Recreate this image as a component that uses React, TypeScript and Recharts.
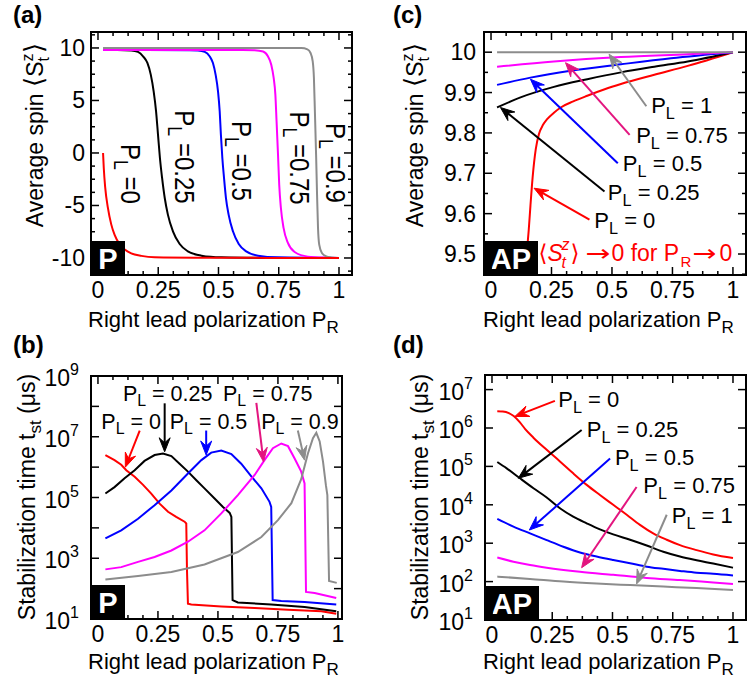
import React from 'react';
import { LineChart, Line, XAxis, YAxis, ReferenceLine, ReferenceDot, ReferenceArea } from 'recharts';

const FONT = "'Liberation Sans', Arial, Helvetica, 'DejaVu Sans', sans-serif";
const RED = '#ff0000';
const BLACK = '#000000';
const BLUE = '#0000ff';
const MAGENTA = '#ff00ff';
const GRAY = '#8c8c8c';
const PINK = '#e3157f';

type Pair = [number, number];
const pts = (rows: Pair[]) => rows.map(([x, y]) => ({ x, y }));

// ---- axis ticks ----
const PR_TICKS = [0, 0.25, 0.5, 0.75, 1];
const PR_LABELS = ['0', '0.25', '0.5', '0.75', '1'];
const PR_MINOR = [0.0625, 0.125, 0.1875, 0.3125, 0.375, 0.4375, 0.5625, 0.625, 0.6875, 0.8125, 0.875, 0.9375];

const SPIN_P_TICKS = [-10, -5, 0, 5, 10];
const SPIN_P_LABELS = ['-10', '-5', '0', '5', '10'];
const SPIN_P_MINOR = [-11.25, -8.75, -7.5, -6.25, -3.75, -2.5, -1.25, 1.25, 2.5, 3.75, 6.25, 7.5, 8.75, 11.25];

const SPIN_AP_TICKS = [9.5, 9.6, 9.7, 9.8, 9.9, 10];
const SPIN_AP_LABELS = ['9.5', '9.6', '9.7', '9.8', '9.9', '10'];
const SPIN_AP_MINOR = [9.45, 9.55, 9.65, 9.75, 9.85, 9.95];

const TIME_P_TICKS = [1e1, 1e2, 1e3, 1e4, 1e5, 1e6, 1e7, 1e8, 1e9];
const TIME_P_LABELED = [1e1, 1e3, 1e5, 1e7, 1e9];
const TIME_AP_TICKS = [1e1, 1e2, 1e3, 1e4, 1e5, 1e6, 1e7];

// ---- (a) average spin, parallel leads ----
const spinP_PL0: Pair[] = [
  [0.021, 0], [0.024, -1.43], [0.03, -3.3], [0.041, -5.2], [0.055, -6.8], [0.069, -7.8], [0.09, -8.7],
  [0.111, -9.2], [0.138, -9.56], [0.18, -9.8], [0.235, -9.94], [0.4, -9.98], [0.7, -9.99], [1.0, -10],
];
const spinP_PL025: Pair[] = [
  [0.021, 9.8], [0.08, 9.8], [0.138, 9.76], [0.166, 9.62], [0.187, 9.21], [0.205, 8.57], [0.219, 7.46],
  [0.231, 5.87], [0.241, 3.97], [0.249, 1.75], [0.257, -0.48], [0.266, -2.38], [0.277, -4.29], [0.29, -5.87],
  [0.311, -7.46], [0.339, -8.67], [0.373, -9.37], [0.429, -9.78], [0.512, -9.94], [0.7, -9.99], [1.0, -10],
];
const spinP_PL05: Pair[] = [
  [0.021, 9.8], [0.2, 9.8], [0.38, 9.79], [0.415, 9.76], [0.443, 9.62], [0.463, 9.21], [0.477, 8.57],
  [0.488, 7.46], [0.498, 5.87], [0.505, 3.97], [0.51, 1.75], [0.516, -0.48], [0.523, -2.38], [0.531, -4.29],
  [0.542, -5.87], [0.56, -7.46], [0.584, -8.67], [0.615, -9.37], [0.664, -9.78], [0.747, -9.94], [1.0, -10],
];
const spinP_PL075: Pair[] = [
  [0.021, 9.8], [0.3, 9.8], [0.6, 9.8], [0.65, 9.78], [0.685, 9.66], [0.705, 9.21], [0.719, 8.41],
  [0.729, 7.14], [0.736, 5.56], [0.741, 3.02], [0.747, -0.16], [0.752, -3.02], [0.759, -5.24], [0.77, -7.14],
  [0.788, -8.57], [0.816, -9.43], [0.871, -9.87], [0.954, -9.97], [1.0, -10],
];
const spinP_PL09: Pair[] = [
  [0.021, 10], [0.4, 10], [0.8, 10], [0.844, 9.99], [0.869, 9.87], [0.882, 9.52], [0.891, 8.73],
  [0.896, 7.14], [0.9, 3.97], [0.905, -0.16], [0.909, -3.97], [0.913, -7.14], [0.918, -8.73],
  [0.929, -9.52], [0.947, -9.84], [0.97, -9.95], [1.0, -10],
];

// ---- (c) average spin, antiparallel leads ----
const spinAP_PL0: Pair[] = [
  [0.14, 9.4], [0.148, 9.5], [0.156, 9.56], [0.163, 9.62], [0.172, 9.69], [0.185, 9.76], [0.198, 9.797],
  [0.215, 9.82], [0.232, 9.834], [0.26, 9.85], [0.288, 9.863], [0.34, 9.878], [0.398, 9.892], [0.47, 9.908],
  [0.537, 9.921], [0.675, 9.944], [0.813, 9.966], [1.0, 10],
];
const spinAP_PL025: Pair[] = [
  [0.025, 9.863], [0.122, 9.888], [0.26, 9.914], [0.398, 9.933], [0.537, 9.95], [0.675, 9.964], [0.813, 9.977], [1.0, 10],
];
const spinAP_PL05: Pair[] = [
  [0.025, 9.919], [0.163, 9.937], [0.329, 9.954], [0.537, 9.97], [0.744, 9.985], [1.0, 10],
];
const spinAP_PL075: Pair[] = [
  [0.025, 9.964], [0.26, 9.977], [0.537, 9.988], [0.813, 9.995], [1.0, 10],
];
const spinAP_PL1: Pair[] = [[0.025, 10], [0.5, 10], [1.0, 10]];

// ---- (b) stabilization time (µs), parallel leads ----
const timeP_PL0: Pair[] = [
  [0.031, 2.5e6], [0.069, 1.7e6], [0.097, 1.2e6], [0.118, 7.9e5], [0.153, 4.8e5], [0.188, 2.6e5],
  [0.222, 1.35e5], [0.257, 6.3e4], [0.292, 3.4e4], [0.326, 2.3e4], [0.361, 1.6e4], [0.368, 1.4e4],
  [0.371, 400], [0.375, 32], [0.389, 30], [0.514, 26], [0.653, 23], [0.792, 20], [0.931, 18], [0.993, 15],
];
const timeP_PL025: Pair[] = [
  [0.031, 1.35e5], [0.069, 2.2e5], [0.111, 4.3e5], [0.153, 7.9e5], [0.194, 1.6e6], [0.236, 2.5e6],
  [0.271, 2.8e6], [0.306, 2.3e6], [0.34, 1.3e6], [0.375, 7.1e5], [0.41, 3.7e5], [0.444, 2.0e5],
  [0.486, 9.3e4], [0.521, 4.9e4], [0.549, 3.1e4], [0.556, 2.3e4], [0.561, 42], [0.583, 35], [0.722, 30],
  [0.861, 25], [0.993, 18],
];
const timeP_PL05: Pair[] = [
  [0.031, 4.5e3], [0.097, 8.3e3], [0.167, 2.0e4], [0.236, 5.6e4], [0.306, 1.7e5], [0.375, 6.2e5],
  [0.431, 1.7e6], [0.472, 3.0e6], [0.514, 3.5e6], [0.556, 2.7e6], [0.597, 1.3e6], [0.639, 5.0e5],
  [0.681, 2.0e5], [0.715, 7.2e4], [0.722, 4.9e4], [0.728, 42], [0.764, 39], [0.861, 36], [0.993, 30],
];
const timeP_PL075: Pair[] = [
  [0.031, 430], [0.097, 510], [0.167, 760], [0.236, 1.1e3], [0.306, 1.8e3], [0.375, 3.5e3], [0.444, 8.3e3],
  [0.514, 3.0e4], [0.583, 1.2e5], [0.653, 5.5e5], [0.694, 1.7e6], [0.729, 4.2e6], [0.764, 6.0e6],
  [0.792, 4.9e6], [0.819, 1.95e6], [0.847, 7.1e5], [0.861, 2.9e5], [0.867, 78], [0.903, 72], [0.993, 49],
];
const timeP_PL09: Pair[] = [
  [0.031, 200], [0.167, 260], [0.306, 355], [0.444, 620], [0.583, 1.6e3], [0.681, 5.0e3], [0.75, 1.8e4],
  [0.806, 6.5e4], [0.847, 4.0e5], [0.875, 2.8e6], [0.896, 8.9e6], [0.91, 1.35e7], [0.924, 7.0e6],
  [0.938, 1.5e6], [0.95, 2.5e5], [0.956, 1.2e5], [0.96, 3e3], [0.963, 180], [0.995, 155],
];

// ---- (d) stabilization time (µs), antiparallel leads ----
const timeAP_PL0: Pair[] = [
  [0.022, 2.75e6], [0.045, 2.7e6], [0.07, 2.45e6], [0.09, 2.05e6], [0.116, 1.4e6], [0.137, 9.5e5],
  [0.172, 5.6e5], [0.227, 2.7e5], [0.282, 1.35e5], [0.337, 6.6e4], [0.393, 3.3e4], [0.448, 1.8e4],
  [0.503, 1.0e4], [0.559, 5.5e3], [0.614, 3.0e3], [0.669, 1.8e3], [0.725, 1.23e3], [0.78, 890],
  [0.849, 660], [0.918, 510], [1.0, 410],
];
const timeAP_PL025: Pair[] = [
  [0.022, 1.3e5], [0.061, 8.9e4], [0.116, 4.9e4], [0.172, 2.7e4], [0.227, 1.55e4], [0.282, 8.1e3],
  [0.337, 4.9e3], [0.393, 3.3e3], [0.448, 2.3e3], [0.503, 1.7e3], [0.573, 1.23e3], [0.642, 870],
  [0.711, 600], [0.78, 450], [0.849, 360], [0.918, 295], [1.0, 230],
];
const timeAP_PL05: Pair[] = [
  [0.022, 4.3e3], [0.089, 2.7e3], [0.158, 1.8e3], [0.227, 1.2e3], [0.296, 810], [0.365, 575], [0.434, 450],
  [0.503, 365], [0.573, 300], [0.642, 245], [0.711, 215], [0.78, 190], [0.849, 170], [0.918, 160], [1.0, 145],
];
const timeAP_PL075: Pair[] = [
  [0.022, 425], [0.089, 330], [0.158, 270], [0.227, 230], [0.365, 180], [0.503, 150], [0.642, 125],
  [0.78, 110], [0.918, 95], [1.0, 87],
];
const timeAP_PL1: Pair[] = [
  [0.022, 135], [0.158, 117], [0.296, 100], [0.434, 89], [0.573, 81], [0.711, 74], [0.849, 68], [1.0, 60],
];

// ---- annotations (data coordinates) ----
type Note = { x: number; y: number; text: string };
type Arrow = { from: [number, number]; to: [number, number]; color: string };

const spinP_notes: Note[] = [
  { x: 0.129, y: -1.99, text: '0' },
  { x: 0.353, y: -0.38, text: '0.25' },
  { x: 0.589, y: -0.76, text: '0.5' },
  { x: 0.83, y: -0.48, text: '0.75' },
  { x: 0.979, y: -0.95, text: '0.9' },
];
const spinAP_notes: Note[] = [
  { x: 0.662, y: 9.849, text: '1' },
  { x: 0.6, y: 9.775, text: '0.75' },
  { x: 0.545, y: 9.705, text: '0.5' },
  { x: 0.483, y: 9.634, text: '0.25' },
  { x: 0.427, y: 9.564, text: '0' },
];
const spinAP_arrows: Arrow[] = [
  { from: [0.642, 9.866], to: [0.488, 9.995], color: GRAY },
  { from: [0.573, 9.795], to: [0.308, 9.974], color: PINK },
  { from: [0.524, 9.725], to: [0.163, 9.933], color: BLUE },
  { from: [0.469, 9.655], to: [0.039, 9.863], color: BLACK },
  { from: [0.407, 9.585], to: [0.178, 9.663], color: RED },
];
const timeP_notes: Note[] = [
  { x: 0.104, y: 1.45e8, text: '0.25' },
  { x: 0.521, y: 1.45e8, text: '0.75' },
  { x: 0.014, y: 1.85e7, text: '0' },
  { x: 0.299, y: 1.85e7, text: '0.5' },
  { x: 0.68, y: 1.85e7, text: '0.9' },
];
const timeP_arrows: Arrow[] = [
  { from: [0.174, 1.6e7], to: [0.114, 1.0e6], color: RED },
  { from: [0.278, 1.26e8], to: [0.278, 3.2e6], color: BLACK },
  { from: [0.451, 1.6e7], to: [0.451, 2.5e6], color: BLUE },
  { from: [0.66, 1.3e8], to: [0.69, 1.5e6], color: PINK },
  { from: [0.833, 1.6e7], to: [0.861, 1.7e6], color: GRAY },
];
const timeAP_notes: Note[] = [
  { x: 0.275, y: 3.6e6, text: '0' },
  { x: 0.393, y: 6.0e5, text: '0.25' },
  { x: 0.51, y: 1.1e5, text: '0.5' },
  { x: 0.628, y: 2.0e4, text: '0.75' },
  { x: 0.746, y: 3.3e3, text: '1' },
];
const timeAP_arrows: Arrow[] = [
  { from: [0.261, 5.1e6], to: [0.095, 2.0e6], color: RED },
  { from: [0.372, 8.9e5], to: [0.109, 4.9e4], color: BLACK },
  { from: [0.49, 1.6e5], to: [0.155, 2.2e3], color: BLUE },
  { from: [0.6, 2.9e4], to: [0.372, 230], color: PINK },
  { from: [0.725, 5.5e3], to: [0.6, 87], color: GRAY },
];

// ---- drawing helpers ----
type Side = 'bottom' | 'top' | 'left' | 'right';

const TICK_FS = 23;
const near = (a: number, b: number) => Math.abs(a - b) <= 1e-6 * Math.max(1, Math.abs(b));

const makeTick = (side: Side, major: number[], label?: (v: number) => React.ReactNode, gap = 6) =>
  function Tick(props: any) {
    const { x, y, payload } = props;
    const v = payload.value as number;
    const isMajor = major.some((m) => near(v, m));
    const len = isMajor ? 8 : 4;
    let seg: [number, number, number, number];
    if (side === 'bottom') seg = [x, y, x, y - len];
    else if (side === 'top') seg = [x, y, x, y + len];
    else if (side === 'left') seg = [x, y, x + len, y];
    else seg = [x, y, x - len, y];
    const txt = isMajor && label ? label(v) : null;
    return (
      <g>
        <line x1={seg[0]} y1={seg[1]} x2={seg[2]} y2={seg[3]} stroke="#000" strokeWidth={1.5} />
        {txt != null && side === 'bottom' && (
          <text x={x} y={y + 23} textAnchor="middle" fontSize={TICK_FS} fontFamily={FONT} fill="#000">{txt}</text>
        )}
        {txt != null && side === 'left' && (
          <text x={x - gap} y={y + 8} textAnchor="end" fontSize={TICK_FS} fontFamily={FONT} fill="#000">{txt}</text>
        )}
      </g>
    );
  };

const listLabel = (ticks: number[], labels: string[]) => (v: number) => {
  const i = ticks.findIndex((t) => near(v, t));
  return i >= 0 ? labels[i] : null;
};

const powLabel = (shown: number[]) => (v: number) => {
  if (!shown.some((s) => near(v, s))) return null;
  const e = Math.round(Math.log10(v));
  return (
    <>
      <tspan dy={2}>10</tspan>
      <tspan dy={-11} fontSize={16}>{e}</tspan>
    </>
  );
};

const prLabel = listLabel(PR_TICKS, PR_LABELS);

type FrameOpts = {
  xDomain: [number, number];
  yDomain: [number, number];
  log?: boolean;
  yTicks: number[];
  yMajor: number[];
  yLabel: (v: number) => React.ReactNode;
  yGap: number;
  leftW: number;
  rightW: number;
};

function frame(o: FrameOpts) {
  const xTicks = [...PR_TICKS, ...PR_MINOR];
  const scale = o.log ? 'log' : 'linear';
  const common = { tickSize: 0, tickMargin: 0, tickLine: false, axisLine: false, interval: 0 as const, allowDataOverflow: true };
  return [
    <XAxis key="xb" dataKey="x" type="number" domain={o.xDomain} ticks={xTicks} height={40}
      tick={makeTick('bottom', PR_TICKS, prLabel)} {...common} />,
    <XAxis key="xt" xAxisId="top" orientation="top" dataKey="x" type="number" domain={o.xDomain} ticks={xTicks}
      height={8} tick={makeTick('top', PR_TICKS)} {...common} />,
    <YAxis key="yl" type="number" scale={scale} domain={o.yDomain} ticks={o.yTicks} width={o.leftW}
      tick={makeTick('left', o.yMajor, o.yLabel, o.yGap)} {...common} />,
    <YAxis key="yr" yAxisId="right" orientation="right" type="number" scale={scale} domain={o.yDomain}
      ticks={o.yTicks} width={o.rightW} tick={makeTick('right', o.yMajor)} {...common} />,
    <ReferenceArea key="box" x1={o.xDomain[0]} x2={o.xDomain[1]} y1={o.yDomain[0]} y2={o.yDomain[1]}
      fill="none" fillOpacity={0} stroke="#000" strokeWidth={2} ifOverflow="visible" />,
  ];
}

const curve = (key: string, rows: Pair[], color: string, type: 'monotone' | 'linear' = 'monotone') => (
  <Line key={key} data={pts(rows)} dataKey="y" type={type} stroke={color} strokeWidth={2}
    dot={false} activeDot={false} isAnimationActive={false} />
);

const arrowShape = (color: string) => (p: any) => {
  const { x1, y1, x2, y2 } = p;
  const dx = x2 - x1;
  const dy = y2 - y1;
  const L = Math.hypot(dx, dy) || 1;
  const ux = dx / L;
  const uy = dy / L;
  const hl = 14;
  const hw = 5.5;
  const notch = 9;
  const bx = x2 - ux * hl;
  const by = y2 - uy * hl;
  const nx = -uy;
  const ny = ux;
  const head = [
    [x2, y2],
    [bx + nx * hw, by + ny * hw],
    [x2 - ux * notch, y2 - uy * notch],
    [bx - nx * hw, by - ny * hw],
  ].map((q) => q.join(',')).join(' ');
  return (
    <g>
      <line x1={x1} y1={y1} x2={x2 - ux * notch} y2={y2 - uy * notch} stroke={color} strokeWidth={2} />
      <polygon points={head} fill={color} stroke={color} strokeWidth={1} strokeLinejoin="miter" />
    </g>
  );
};

const arrows = (list: Arrow[], id: string) =>
  list.map((a, i) => (
    <ReferenceLine key={`${id}-ar-${i}`} segment={[{ x: a.from[0], y: a.from[1] }, { x: a.to[0], y: a.to[1] }]}
      ifOverflow="visible" zIndex={1500} shape={arrowShape(a.color)} />
  ));

function PL({ x, y, v, anchor = 'start', tight = false, fill = '#000', size = 22, sub = 6 }: {
  x: number; y: number; v: string; anchor?: 'start' | 'middle'; tight?: boolean; fill?: string; size?: number; sub?: number;
}) {
  return (
    <text x={x} y={y} fontSize={size} fontFamily={FONT} fill={fill} textAnchor={anchor}>
      P<tspan dy={sub} fontSize={size * 0.74}>L</tspan>
      <tspan dy={-sub}>{tight ? ` =${v}` : ` = ${v}`}</tspan>
    </text>
  );
}

const notes = (list: Note[], id: string, size = 22, sub = 6) =>
  list.map((n, i) => (
    <ReferenceDot key={`${id}-nt-${i}`} x={n.x} y={n.y} ifOverflow="visible" zIndex={1500}
      shape={(p: any) => <PL x={p.cx} y={p.cy} v={n.text} size={size} sub={sub} />} />
  ));

// labels written along the steps, reading top to bottom
const rotatedNotes = (list: Note[], id: string) =>
  list.map((n, i) => (
    <ReferenceDot key={`${id}-nt-${i}`} x={n.x} y={n.y} ifOverflow="visible" zIndex={1500}
      shape={(p: any) => (
        <g transform={`translate(${p.cx},${p.cy}) rotate(90) scale(1,1.15)`}>
          <PL x={0} y={7} v={n.text} anchor="middle" tight size={24} />
        </g>
      )} />
  ));

const cornerTag = (x: number, y: number, text: string, w: number) => (
  <ReferenceDot key="tag" x={x} y={y} ifOverflow="visible" zIndex={1600}
    shape={(p: any) => (
      <g>
        <rect x={p.cx} y={p.cy - 34} width={w} height={34} fill="#000" />
        <text x={p.cx + w / 2} y={p.cy - 6} textAnchor="middle" fontSize={29} fontWeight="bold"
          fontFamily={FONT} fill="#fff">{text}</text>
      </g>
    )} />
);

// red remark in the antiparallel spin panel
const spinLimitNote = (
  <ReferenceDot key="limit" x={0.192} y={9.483} ifOverflow="visible" zIndex={1500}
    shape={(p: any) => {
      const x0 = p.cx;
      const y0 = p.cy;
      return (
        <g fill={RED} fontFamily={FONT}>
          <text x={x0 + 1} y={y0} fontSize={23}>{'\u27E8'}</text>
          <text x={x0 + 10} y={y0} fontSize={23} fontStyle="italic">S</text>
          <text x={x0 + 24} y={y0 - 11} fontSize={16} fontStyle="italic">z</text>
          <text x={x0 + 24} y={y0 + 7} fontSize={16} fontStyle="italic">t</text>
          <text x={x0 + 33} y={y0} fontSize={23}>{'\u27E9'}</text>
          <text x={x0 + 48} y={y0} fontSize={23} fontFamily="'DejaVu Sans'" textLength={25}
            lengthAdjust="spacingAndGlyphs">{'\u2192'}</text>
          <text x={x0 + 74} y={y0} fontSize={23}>0 for P</text>
          <text x={x0 + 143} y={y0 + 6} fontSize={15}>R</text>
          <text x={x0 + 155} y={y0} fontSize={23} fontFamily="'DejaVu Sans'" textLength={24}
            lengthAdjust="spacingAndGlyphs">{'\u2192'}</text>
          <text x={x0 + 182} y={y0} fontSize={23}>0</text>
        </g>
      );
    }} />
);

// ---- panel geometry ----
const X_WIDE: [number, number] = [-0.029, 1.054];
const X_NARROW: [number, number] = [-0.029, 1.017];
const SPIN_P_DOMAIN: [number, number] = [-11.62, 11.52];
const SPIN_AP_DOMAIN: [number, number] = [9.448, 10.05];
const TIME_P_DOMAIN: [number, number] = [10, 1e9];
const TIME_AP_DOMAIN: [number, number] = [10, 2.4e7];

const box = (left: number, top: number): React.CSSProperties => ({ position: 'absolute', left, top });

function TitleX({ x, y }: { x: number; y: number }) {
  return (
    <text x={x} y={y} fontSize={22} fontFamily={FONT}>
      Right lead polarization P<tspan dy={6} fontSize={17}>R</tspan>
    </text>
  );
}

function TitleSpin({ x, y }: { x: number; y: number }) {
  return (
    <text transform={`translate(${x},${y}) rotate(-90)`} textAnchor="middle" fontSize={23} fontFamily={FONT}>
      Average spin <tspan fontSize={26}>{'\u27E8'}</tspan>S<tspan dy={-10} fontSize={16}>z</tspan>
      <tspan dx={-8} dy={16} fontSize={16}>t</tspan>
      <tspan dx={4} dy={-6} fontSize={26}>{'\u27E9'}</tspan>
    </text>
  );
}

function TitleTime({ x, y }: { x: number; y: number }) {
  return (
    <text transform={`translate(${x},${y}) rotate(-90)`} textAnchor="middle" fontSize={23} fontFamily={FONT}>
      Stabilization time t<tspan dy={6} fontSize={17}>st</tspan>
      <tspan dy={-6}> ({'\u03BC'}s)</tspan>
    </text>
  );
}

export default function App() {
  return (
    <div style={{ position: 'absolute', left: 0, top: 0, width: 752, height: 684, background: '#fff', fontFamily: FONT }}>
      {/* (a) */}
      <div style={box(0, 0)}>
        <LineChart width={376} height={342} margin={{ top: 24, right: 16, bottom: 27, left: 31 }}>
          {frame({
            xDomain: X_WIDE, yDomain: SPIN_P_DOMAIN, yTicks: [...SPIN_P_TICKS, ...SPIN_P_MINOR],
            yMajor: SPIN_P_TICKS, yLabel: listLabel(SPIN_P_TICKS, SPIN_P_LABELS), yGap: 6, leftW: 60, rightW: 8,
          })}
          {curve('b', spinP_PL025, BLACK)}
          {curve('u', spinP_PL05, BLUE)}
          {curve('m', spinP_PL075, MAGENTA)}
          {curve('g', spinP_PL09, GRAY)}
          {curve('r', spinP_PL0, RED)}
          {rotatedNotes(spinP_notes, 'a')}
          {cornerTag(X_WIDE[0], SPIN_P_DOMAIN[0], 'P', 34)}
        </LineChart>
      </div>

      {/* (c) */}
      <div style={box(376, 0)}>
        <LineChart width={376} height={342} margin={{ top: 24, right: 2, bottom: 27, left: 48 }}>
          {frame({
            xDomain: X_WIDE, yDomain: SPIN_AP_DOMAIN, yTicks: [...SPIN_AP_TICKS, ...SPIN_AP_MINOR],
            yMajor: SPIN_AP_TICKS, yLabel: listLabel(SPIN_AP_TICKS, SPIN_AP_LABELS), yGap: 8, leftW: 60, rightW: 4,
          })}
          {curve('r', spinAP_PL0, RED)}
          {curve('b', spinAP_PL025, BLACK)}
          {curve('u', spinAP_PL05, BLUE)}
          {curve('m', spinAP_PL075, MAGENTA)}
          {curve('g', spinAP_PL1, GRAY)}
          {arrows(spinAP_arrows, 'c')}
          {notes(spinAP_notes, 'c')}
          {spinLimitNote}
          {cornerTag(X_WIDE[0], SPIN_AP_DOMAIN[0], 'AP', 54)}
        </LineChart>
      </div>

      {/* (b) */}
      <div style={box(0, 342)}>
        <LineChart width={376} height={342} margin={{ top: 26, right: 26, bottom: 25, left: 31 }}>
          {frame({
            xDomain: X_NARROW, yDomain: TIME_P_DOMAIN, log: true, yTicks: TIME_P_TICKS,
            yMajor: TIME_P_TICKS, yLabel: powLabel(TIME_P_LABELED), yGap: 12, leftW: 60, rightW: 8,
          })}
          {curve('r', timeP_PL0, RED, 'linear')}
          {curve('b', timeP_PL025, BLACK, 'linear')}
          {curve('u', timeP_PL05, BLUE, 'linear')}
          {curve('m', timeP_PL075, MAGENTA, 'linear')}
          {curve('g', timeP_PL09, GRAY, 'linear')}
          {arrows(timeP_arrows, 'b')}
          {notes(timeP_notes, 'b', 21.5, 5)}
          {cornerTag(X_NARROW[0], TIME_P_DOMAIN[0], 'P', 34)}
        </LineChart>
      </div>

      {/* (d) */}
      <div style={box(376, 342)}>
        <LineChart width={376} height={342} margin={{ top: 25, right: 2, bottom: 24, left: 49 }}>
          {frame({
            xDomain: X_WIDE, yDomain: TIME_AP_DOMAIN, log: true, yTicks: TIME_AP_TICKS,
            yMajor: TIME_AP_TICKS, yLabel: powLabel(TIME_AP_TICKS), yGap: 12, leftW: 60, rightW: 4,
          })}
          {curve('r', timeAP_PL0, RED)}
          {curve('b', timeAP_PL025, BLACK)}
          {curve('u', timeAP_PL05, BLUE)}
          {curve('m', timeAP_PL075, MAGENTA)}
          {curve('g', timeAP_PL1, GRAY)}
          {arrows(timeAP_arrows, 'd')}
          {notes(timeAP_notes, 'd')}
          {cornerTag(X_WIDE[0], TIME_AP_DOMAIN[0], 'AP', 54)}
        </LineChart>
      </div>

      {/* panel letters and axis titles */}
      <svg width={752} height={684} style={{ position: 'absolute', left: 0, top: 0, pointerEvents: 'none' }}>
        <g fontFamily={FONT} fontWeight="bold" fontSize={24}>
          <text x={13} y={23}>(a)</text>
          <text x={393} y={23}>(c)</text>
          <text x={13} y={353}>(b)</text>
          <text x={393} y={353}>(d)</text>
        </g>
        <TitleSpin x={43} y={135} />
        <TitleSpin x={423} y={135} />
        <TitleTime x={35} y={497} />
        <TitleTime x={428} y={497} />
        <TitleX x={88} y={327} />
        <TitleX x={483} y={327} />
        <TitleX x={88} y={669} />
        <TitleX x={483} y={669} />
      </svg>
    </div>
  );
}
